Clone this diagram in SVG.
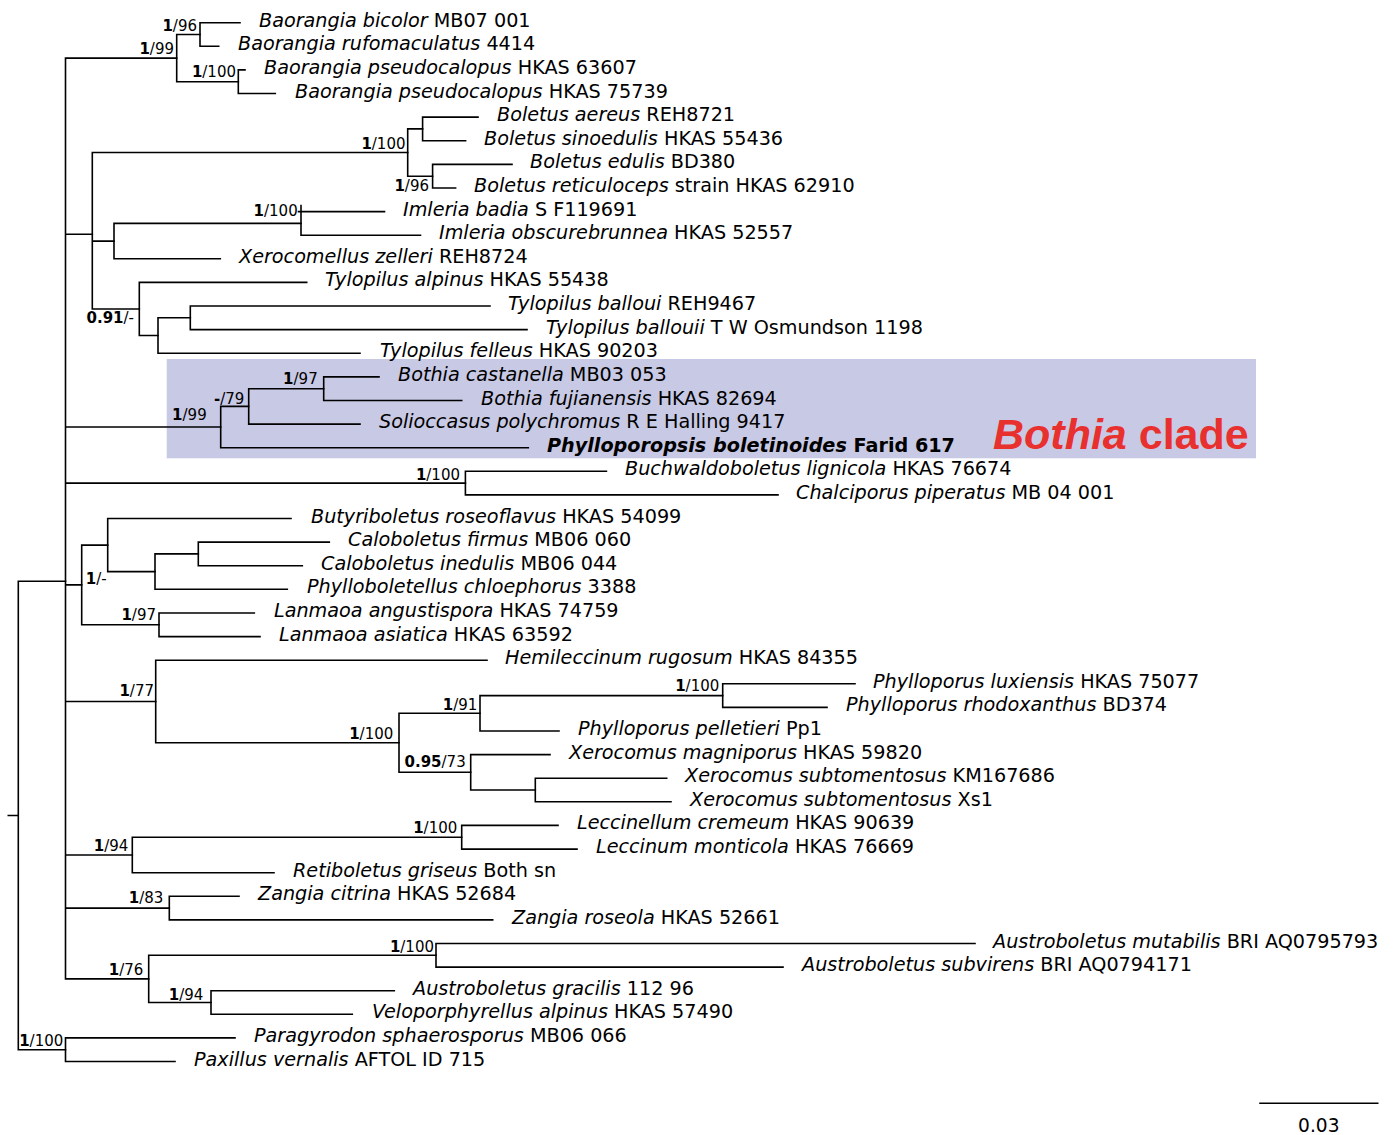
<svg xmlns="http://www.w3.org/2000/svg" width="1395" height="1135" viewBox="0 0 1395 1135">
<style>
.tip{font-family:"DejaVu Sans",sans-serif;font-size:19.2px;fill:#000}
.tip .i{font-style:italic}
.sup{font-family:"DejaVu Sans",sans-serif;font-size:15px;fill:#000;text-anchor:end}
.sup .b{font-weight:bold}
.br{fill:none;stroke:#000;stroke-width:1.6;stroke-linecap:square;stroke-linejoin:miter}
.clade{font-family:"Liberation Sans",Arial,sans-serif;font-size:43px;font-weight:bold;fill:#e8302f}
</style>
<rect id="highlight" x="166.7" y="359" width="1089.3" height="99.3" fill="#c8c9e4"/>
<g id="connectors" class="br">
<path d="M8.3 815.5H18.3M18.3 581.2V1049.7M18.3 581.2H65.5M18.3 1049.7H65.5"/>
<path d="M235 1037.9H65.5V1061.5H175"/>
<path d="M65.5 58.1V978.9M65.5 58.1H176.7M65.5 234.2H92.3M65.5 427H220.7M65.5 483.1H465.4M65.5 584.9H81.7M65.5 701.5H155.7M65.5 855H132.3M65.5 908.1H169.3M65.5 978.9H148.7"/>
<path d="M200 34.5H176.7V81.7H238.3"/>
<path d="M240 22.7H200V46.3H218.7"/>
<path d="M245 69.9H238.3V93.5H275.3"/>
<path d="M407.7 152.5H92.3V309H139.3M92.3 241.1H114"/>
<path d="M422.6 128.9H407.7V176.2H432.6"/>
<path d="M478 117.1H422.6V140.8H465.6"/>
<path d="M512 164.4H432.6V188H455.6"/>
<path d="M301 223.4H114V258.8H220.3"/>
<path d="M384.5 211.6H298.5M301 205.5V235.2H420.5"/>
<path d="M306.7 282.4H139.3V335.5H158"/>
<path d="M190.3 317.8H158V353.2H360"/>
<path d="M490 306H190.3V329.6H527"/>
<path d="M248.7 406.4H220.7V447.7H528.3"/>
<path d="M323.7 388.7H248.7V424.1H360"/>
<path d="M379 376.9H323.7V400.5H461.7"/>
<path d="M606.4 471.3H465.4V494.9H778"/>
<path d="M107.7 545.1H81.7V624.8H159"/>
<path d="M291 518.5H107.7V571.6H155"/>
<path d="M198.3 553.9H155V589.3H287.3"/>
<path d="M329.3 542.1H198.3V565.7H302.3"/>
<path d="M254.3 613H159V636.6H260"/>
<path d="M487 660.2H155.7V742.8H399"/>
<path d="M480 713.3H399V772.3H470.7"/>
<path d="M722.7 695.6H480V731H559"/>
<path d="M855 683.8H722.7V707.4H827"/>
<path d="M550 754.6H470.7V790H535.3"/>
<path d="M666.7 778.2H535.3V801.8H671"/>
<path d="M461.7 837.2H132.3V872.7H274"/>
<path d="M558 825.4H461.7V849.1H577"/>
<path d="M239 896.3H169.3V919.9H492.7"/>
<path d="M436 955.3H148.7V1002.5H211"/>
<path d="M975 943.5H436V967.1H783"/>
<path d="M394.3 990.7H211V1014.3H352.3"/>
<path d="M1260 1103.3H1377.7"/>
</g>
<g id="tips" class="tip">
<g id="t01"><text x="259" y="26.7"><tspan class="i">Baorangia bicolor</tspan> MB07 001</text></g>
<g id="t02"><text x="238" y="50.3"><tspan class="i">Baorangia rufomaculatus</tspan> 4414</text></g>
<g id="t03"><text x="264" y="73.9"><tspan class="i">Baorangia pseudocalopus</tspan> HKAS 63607</text></g>
<g id="t04"><text x="295" y="97.5"><tspan class="i">Baorangia pseudocalopus</tspan> HKAS 75739</text></g>
<g id="t05"><text x="497" y="121.1"><tspan class="i">Boletus aereus</tspan> REH8721</text></g>
<g id="t06"><text x="484" y="144.8"><tspan class="i">Boletus sinoedulis</tspan> HKAS 55436</text></g>
<g id="t07"><text x="530" y="168.4"><tspan class="i">Boletus edulis</tspan> BD380</text></g>
<g id="t08"><text x="474" y="192"><tspan class="i">Boletus reticuloceps</tspan> strain HKAS 62910</text></g>
<g id="t09"><text x="403" y="215.6"><tspan class="i">Imleria badia</tspan> S F119691</text></g>
<g id="t10"><text x="439" y="239.2"><tspan class="i">Imleria obscurebrunnea</tspan> HKAS 52557</text></g>
<g id="t11"><text x="239" y="262.8"><tspan class="i">Xerocomellus zelleri</tspan> REH8724</text></g>
<g id="t12"><text x="325" y="286.4"><tspan class="i">Tylopilus alpinus</tspan> HKAS 55438</text></g>
<g id="t13"><text x="508" y="310"><tspan class="i">Tylopilus balloui</tspan> REH9467</text></g>
<g id="t14"><text x="546" y="333.6"><tspan class="i">Tylopilus ballouii</tspan> T W Osmundson 1198</text></g>
<g id="t15"><text x="380" y="357.2"><tspan class="i">Tylopilus felleus</tspan> HKAS 90203</text></g>
<g id="t16"><text x="398" y="380.9"><tspan class="i">Bothia castanella</tspan> MB03 053</text></g>
<g id="t17"><text x="481" y="404.5"><tspan class="i">Bothia fujianensis</tspan> HKAS 82694</text></g>
<g id="t18"><text x="379" y="428.1"><tspan class="i">Solioccasus polychromus</tspan> R E Halling 9417</text></g>
<g id="t19"><text x="547" y="451.7" font-weight="bold"><tspan class="i">Phylloporopsis boletinoides</tspan> Farid 617</text></g>
<g id="t20"><text x="625" y="475.3"><tspan class="i">Buchwaldoboletus lignicola</tspan> HKAS 76674</text></g>
<g id="t21"><text x="796" y="498.9"><tspan class="i">Chalciporus piperatus</tspan> MB 04 001</text></g>
<g id="t22"><text x="311" y="522.5"><tspan class="i">Butyriboletus roseoflavus</tspan> HKAS 54099</text></g>
<g id="t23"><text x="348" y="546.1"><tspan class="i">Caloboletus firmus</tspan> MB06 060</text></g>
<g id="t24"><text x="321" y="569.7"><tspan class="i">Caloboletus inedulis</tspan> MB06 044</text></g>
<g id="t25"><text x="307" y="593.3"><tspan class="i">Phylloboletellus chloephorus</tspan> 3388</text></g>
<g id="t26"><text x="274" y="617"><tspan class="i">Lanmaoa angustispora</tspan> HKAS 74759</text></g>
<g id="t27"><text x="279" y="640.6"><tspan class="i">Lanmaoa asiatica</tspan> HKAS 63592</text></g>
<g id="t28"><text x="505" y="664.2"><tspan class="i">Hemileccinum rugosum</tspan> HKAS 84355</text></g>
<g id="t29"><text x="873" y="687.8"><tspan class="i">Phylloporus luxiensis</tspan> HKAS 75077</text></g>
<g id="t30"><text x="846" y="711.4"><tspan class="i">Phylloporus rhodoxanthus</tspan> BD374</text></g>
<g id="t31"><text x="578" y="735"><tspan class="i">Phylloporus pelletieri</tspan> Pp1</text></g>
<g id="t32"><text x="569" y="758.6"><tspan class="i">Xerocomus magniporus</tspan> HKAS 59820</text></g>
<g id="t33"><text x="685" y="782.2"><tspan class="i">Xerocomus subtomentosus</tspan> KM167686</text></g>
<g id="t34"><text x="690" y="805.8"><tspan class="i">Xerocomus subtomentosus</tspan> Xs1</text></g>
<g id="t35"><text x="577" y="829.4"><tspan class="i">Leccinellum cremeum</tspan> HKAS 90639</text></g>
<g id="t36"><text x="596" y="853.1"><tspan class="i">Leccinum monticola</tspan> HKAS 76669</text></g>
<g id="t37"><text x="293" y="876.7"><tspan class="i">Retiboletus griseus</tspan> Both sn</text></g>
<g id="t38"><text x="258" y="900.3"><tspan class="i">Zangia citrina</tspan> HKAS 52684</text></g>
<g id="t39"><text x="512" y="923.9"><tspan class="i">Zangia roseola</tspan> HKAS 52661</text></g>
<g id="t40"><text x="993" y="947.5"><tspan class="i">Austroboletus mutabilis</tspan> BRI AQ0795793</text></g>
<g id="t41"><text x="802" y="971.1"><tspan class="i">Austroboletus subvirens</tspan> BRI AQ0794171</text></g>
<g id="t42"><text x="413" y="994.7"><tspan class="i">Austroboletus gracilis</tspan> 112 96</text></g>
<g id="t43"><text x="372" y="1018.3"><tspan class="i">Veloporphyrellus alpinus</tspan> HKAS 57490</text></g>
<g id="t44"><text x="254" y="1041.9"><tspan class="i">Paragyrodon sphaerosporus</tspan> MB06 066</text></g>
<g id="t45"><text x="194" y="1065.5"><tspan class="i">Paxillus vernalis</tspan> AFTOL ID 715</text></g>
</g>
<g id="supports" class="sup">
<g id="n-bic"><text x="197" y="31"><tspan class="b">1</tspan>/96</text></g>
<g id="n-bao"><text x="174" y="54"><tspan class="b">1</tspan>/99</text></g>
<g id="n-pse"><text x="236" y="77"><tspan class="b">1</tspan>/100</text></g>
<g id="n-bol"><text x="405.5" y="148.5"><tspan class="b">1</tspan>/100</text></g>
<g id="n-edu"><text x="429" y="190.5"><tspan class="b">1</tspan>/96</text></g>
<g id="n-iml"><text x="297.7" y="216"><tspan class="b">1</tspan>/100</text></g>
<g id="n-tyl"><text x="134" y="323.3"><tspan class="b">0.91</tspan>/-</text></g>
<g id="n-both"><text x="206.7" y="420"><tspan class="b">1</tspan>/99</text></g>
<g id="n-79"><text x="244.3" y="403.5"><tspan class="b">-</tspan>/79</text></g>
<g id="n-bc"><text x="317.7" y="384"><tspan class="b">1</tspan>/97</text></g>
<g id="n-buch"><text x="460" y="480"><tspan class="b">1</tspan>/100</text></g>
<g id="n-but"><text x="106.7" y="584.3"><tspan class="b">1</tspan>/-</text></g>
<g id="n-lan"><text x="156" y="620"><tspan class="b">1</tspan>/97</text></g>
<g id="n-77"><text x="154" y="696"><tspan class="b">1</tspan>/77</text></g>
<g id="n-100h"><text x="393.3" y="739"><tspan class="b">1</tspan>/100</text></g>
<g id="n-91"><text x="477.3" y="709.5"><tspan class="b">1</tspan>/91</text></g>
<g id="n-phy"><text x="719.3" y="690.7"><tspan class="b">1</tspan>/100</text></g>
<g id="n-95"><text x="465.7" y="767.3"><tspan class="b">0.95</tspan>/73</text></g>
<g id="n-94"><text x="128.3" y="851"><tspan class="b">1</tspan>/94</text></g>
<g id="n-lec"><text x="457.3" y="833.3"><tspan class="b">1</tspan>/100</text></g>
<g id="n-zan"><text x="163.3" y="903.3"><tspan class="b">1</tspan>/83</text></g>
<g id="n-76"><text x="143.3" y="975"><tspan class="b">1</tspan>/76</text></g>
<g id="n-aus"><text x="434" y="951.7"><tspan class="b">1</tspan>/100</text></g>
<g id="n-gra"><text x="203.3" y="1000"><tspan class="b">1</tspan>/94</text></g>
<g id="n-out"><text x="63.3" y="1045.7"><tspan class="b">1</tspan>/100</text></g>
</g>
<g id="clade-label"><text class="clade" x="993" y="448.5"><tspan font-style="italic">Bothia</tspan> clade</text></g>
<g id="scale"><text x="1318.8" y="1131.7" font-family="DejaVu Sans, sans-serif" font-size="18.6" text-anchor="middle">0.03</text></g>
</svg>
